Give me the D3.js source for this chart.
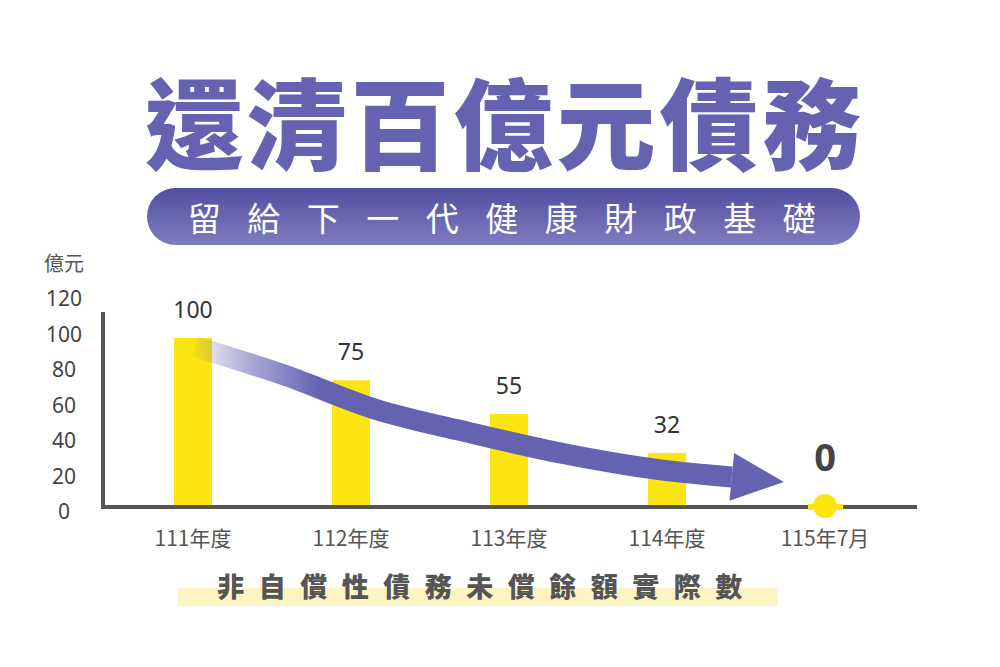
<!DOCTYPE html>
<html>
<head>
<meta charset="utf-8">
<script src="https://cdn.jsdelivr.net/npm/d3@7"></script>
<style>
  body { margin: 0; background: #fff; }
  svg text { font-family: "Noto Sans CJK TC", "Noto Sans", sans-serif; }
  svg text.num { font-family: "Noto Sans", "Noto Sans CJK TC", sans-serif; }
</style>
</head>
<body>
<svg id="chart"></svg>
<script>

// data
var categories = ["111年度", "112年度", "113年度", "114年度", "115年7月"];
var debtValues = [100, 75, 55, 32, 0];
var yTicks = [0, 20, 40, 60, 80, 100, 120];
var unitLabel = "億元";
var titleText = "還清百億元債務";
var subtitleText = "留給下一代健康財政基礎";
var captionText = "非自償性債務未償餘額實際數";
// trend arrow, in category index / value units
var arrowIdx = [0.01, 0.58, 1.15, 1.75, 2.35, 2.96, 3.41];
var arrowVal = [95, 78, 58, 44, 31.5, 22, 17.8];
var arrowTip = [3.74, 14.8];

var svgWidth = 1000;
var svgHeight = 667;
var purple = "#6562b2";
var yellow = "#fde512";

var svg = d3.select("#chart")
    .attr("width", svgWidth)
    .attr("height", svgHeight);

var defs = svg.append("defs");

//Scales
var x = d3.scalePoint()
    .domain(categories)
    .range([193, 825]);

var xIdx = d3.scaleLinear()
    .domain([0, categories.length - 1])
    .range([193, 825]);

var y = d3.scaleLinear()
    .domain([0, 100])
    .range([507, 338]);

// tick labels sit on their own (slightly looser) scale in the original
var yLabel = d3.scaleLinear()
    .domain([0, 120])
    .range([511, 298]);

//Title
svg.append("text")
    .attr("x", 505)
    .attr("y", 119)
    .attr("text-anchor", "middle")
    .attr("dominant-baseline", "central")
    .attr("font-size", 99)
    .attr("font-weight", 900)
    .attr("letter-spacing", 4)
    .attr("fill", purple)
    .text(titleText);

//Subtitle pill
var pillGrad = defs.append("linearGradient")
    .attr("id", "pillGrad")
    .attr("x1", 0).attr("y1", 0).attr("x2", 0).attr("y2", 1);
pillGrad.append("stop").attr("offset", 0).attr("stop-color", "#524e9f");
pillGrad.append("stop").attr("offset", 1).attr("stop-color", "#7f7cc1");

svg.append("rect")
    .attr("x", 147)
    .attr("y", 188)
    .attr("width", 713)
    .attr("height", 57)
    .attr("rx", 28.5)
    .attr("fill", "url(#pillGrad)");

svg.append("text")
    .attr("x", 515)
    .attr("y", 217)
    .attr("text-anchor", "middle")
    .attr("dominant-baseline", "central")
    .attr("font-size", 33)
    .attr("font-weight", 400)
    .attr("letter-spacing", 26.5)
    .attr("fill", "#fff")
    .text(subtitleText);

//Unit label
svg.append("text")
    .attr("x", 64)
    .attr("y", 262)
    .attr("text-anchor", "middle")
    .attr("dominant-baseline", "central")
    .attr("font-size", 20)
    .attr("fill", "#555")
    .text(unitLabel);

//Y tick labels
svg.append("g")
    .selectAll("text")
    .data(yTicks)
    .enter()
    .append("text")
    .attr("class", "num")
    .attr("x", 64)
    .attr("y", function(d) { return yLabel(d); })
    .attr("text-anchor", "middle")
    .attr("dominant-baseline", "central")
    .attr("font-size", 21)
    .attr("fill", "#444")
    .text(function(d) { return d; });

//Bars
svg.append("g")
    .selectAll("rect")
    .data(debtValues.slice(0, 4))
    .enter()
    .append("rect")
    .attr("x", function(d, i) { return x(categories[i]) - 19; })
    .attr("y", function(d) { return y(d); })
    .attr("width", 38)
    .attr("height", function(d) { return y(0) - y(d); })
    .attr("fill", yellow);

//Axes
svg.append("line")
    .attr("x1", 103).attr("x2", 103)
    .attr("y1", 312).attr("y2", y(0) + 2)
    .attr("stroke", "#555")
    .attr("stroke-width", 4);

svg.append("line")
    .attr("x1", 101).attr("x2", 917)
    .attr("y1", y(0)).attr("y2", y(0))
    .attr("stroke", "#555")
    .attr("stroke-width", 4);

//Zero marker
var last = categories[categories.length - 1];
svg.append("line")
    .attr("x1", x(last) - 17).attr("x2", x(last) + 18)
    .attr("y1", y(0)).attr("y2", y(0))
    .attr("stroke", yellow)
    .attr("stroke-width", 6);

svg.append("circle")
    .attr("cx", x(last))
    .attr("cy", y(0) - 1)
    .attr("r", 12)
    .attr("fill", yellow);

//Value labels
svg.append("g")
    .selectAll("text")
    .data(debtValues)
    .enter()
    .append("text")
    .attr("class", "num")
    .attr("x", function(d, i) { return x(categories[i]); })
    .attr("y", function(d, i) { return d === 0 ? y(0) - 51 : y(d) - 29; })
    .attr("text-anchor", "middle")
    .attr("dominant-baseline", "central")
    .attr("font-size", function(d) { return d === 0 ? 38 : 23; })
    .attr("font-weight", function(d) { return d === 0 ? 700 : 400; })
    .attr("fill", function(d) { return d === 0 ? "#444" : "#333"; })
    .text(function(d) { return d; });

//Trend arrow
var arrowGrad = defs.append("linearGradient")
    .attr("id", "arrowGrad")
    .attr("gradientUnits", "userSpaceOnUse")
    .attr("x1", xIdx(0)).attr("y1", 0)
    .attr("x2", xIdx(0.8)).attr("y2", 0);
arrowGrad.append("stop").attr("offset", 0).attr("stop-color", purple).attr("stop-opacity", 0.05);
arrowGrad.append("stop").attr("offset", 0.45).attr("stop-color", purple).attr("stop-opacity", 0.55);
arrowGrad.append("stop").attr("offset", 1).attr("stop-color", purple).attr("stop-opacity", 1);

var arrowPts = arrowIdx.map(function(d, i) { return [xIdx(d), y(arrowVal[i])]; });

var line = d3.line().curve(d3.curveMonotoneX);

svg.append("path")
    .attr("d", line(arrowPts))
    .attr("fill", "none")
    .attr("stroke", "url(#arrowGrad)")
    .attr("stroke-width", 21);

var end = arrowPts[arrowPts.length - 1];
var tip = [xIdx(arrowTip[0]), y(arrowTip[1])];
var ang = Math.atan2(tip[1] - end[1], tip[0] - end[0]);
var hw = 24;
var head = [
    [end[0] + Math.sin(ang) * hw, end[1] - Math.cos(ang) * hw],
    tip,
    [end[0] - Math.sin(ang) * hw, end[1] + Math.cos(ang) * hw]
];
svg.append("path")
    .attr("d", "M" + head.join("L") + "Z")
    .attr("fill", purple);

//Category labels
svg.append("g")
    .selectAll("text")
    .data(categories)
    .enter()
    .append("text")
    .attr("x", function(d) { return x(d); })
    .attr("y", 537)
    .attr("text-anchor", "middle")
    .attr("dominant-baseline", "central")
    .attr("font-size", 21)
    .attr("fill", "#555")
    .text(function(d) { return d; });

//Caption
svg.append("rect")
    .attr("x", 178)
    .attr("y", 588)
    .attr("width", 600)
    .attr("height", 18)
    .attr("fill", "#fcf4c3");

svg.append("text")
    .attr("x", 487)
    .attr("y", 585)
    .attr("text-anchor", "middle")
    .attr("dominant-baseline", "central")
    .attr("font-size", 27)
    .attr("font-weight", 900)
    .attr("letter-spacing", 14.5)
    .attr("fill", "#555")
    .text(captionText);

</script>
</body>
</html>
